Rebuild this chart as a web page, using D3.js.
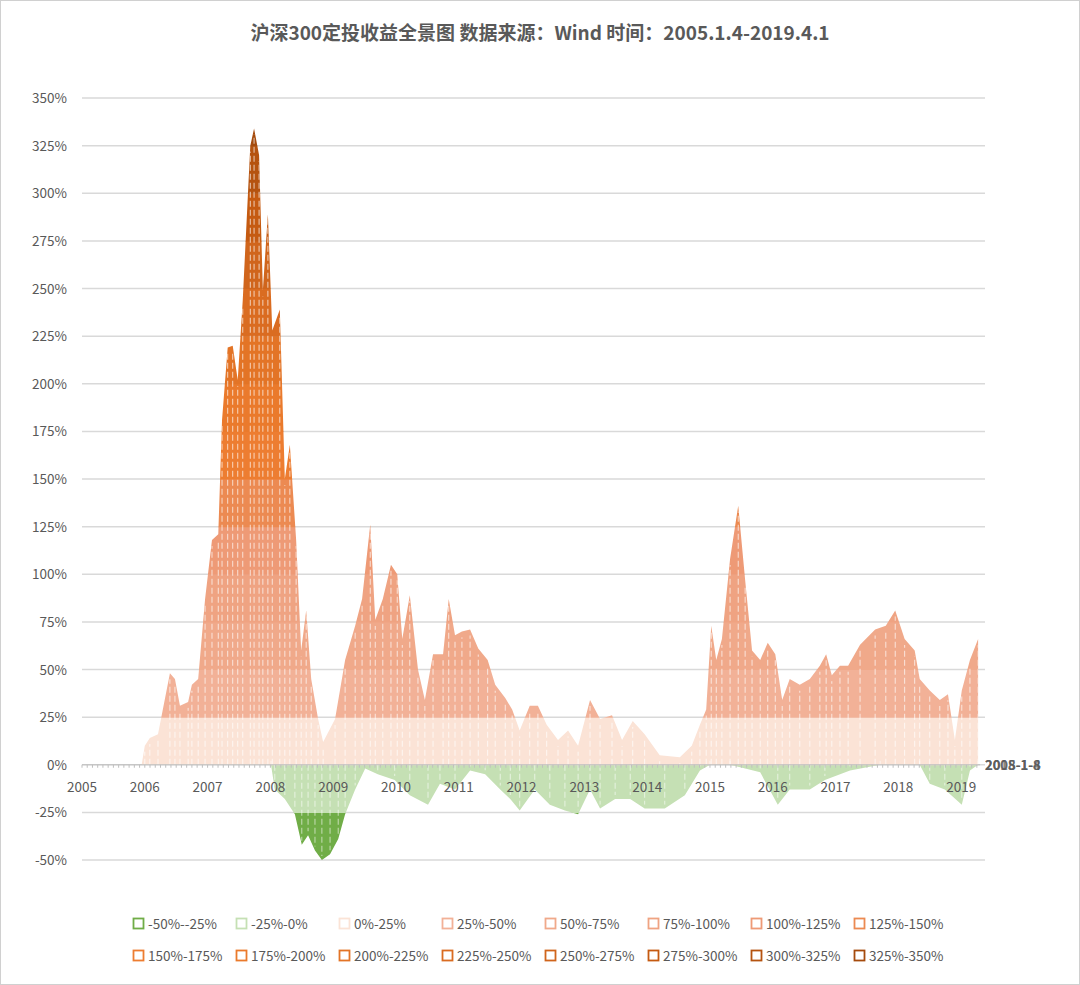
<!DOCTYPE html>
<html><head><meta charset="utf-8">
<script src="https://cdn.jsdelivr.net/npm/d3@7"></script>
<style>body{margin:0;background:#fff}svg{display:block}</style>
</head><body>
<svg id="c" width="1080" height="985"></svg>
<script>
// upper envelope of all series (year, return %)
const upYears = [2005.0,2005.95,2006.0,2006.08,2006.21,2006.4,2006.48,2006.56,2006.69,2006.75,2006.85,2006.96,2007.07,2007.17,2007.23,2007.32,2007.4,2007.48,2007.56,2007.68,2007.74,2007.82,2007.88,2007.96,2008.03,2008.15,2008.23,2008.31,2008.41,2008.49,2008.57,2008.65,2008.76,2008.84,2009.03,2009.19,2009.35,2009.46,2009.59,2009.67,2009.79,2009.92,2010.02,2010.1,2010.22,2010.35,2010.46,2010.59,2010.75,2010.84,2010.94,2011.05,2011.18,2011.31,2011.46,2011.58,2011.74,2011.85,2011.97,2012.13,2012.26,2012.4,2012.58,2012.74,2012.9,2013.09,2013.25,2013.44,2013.6,2013.77,2013.96,2014.2,2014.52,2014.71,2014.84,2014.94,2015.02,2015.1,2015.19,2015.32,2015.45,2015.56,2015.67,2015.8,2015.92,2016.04,2016.15,2016.27,2016.43,2016.59,2016.75,2016.85,2016.94,2017.07,2017.2,2017.39,2017.63,2017.8,2017.95,2018.1,2018.26,2018.34,2018.5,2018.66,2018.79,2018.9,2019.01,2019.14,2019.27];
const upVals  = [0,0,10,14,16,48,45,31,33,42,45,87,118,121,181,219,220,202,244,325,334,320,249,289,228,239,150,168,118,60,81,45,24,12,24,55,73,87,126,76,87,105,100,66,89,50,34,58,58,87,68,70,71,61,55,42,35,29,18,31,31,21,13,18,10,34,24,26,13,23,16,5,4,10,21,29,73,55,66,108,136,97,60,55,64,58,34,45,42,45,52,58,47,52,52,63,71,73,81,66,60,45,39,34,37,13,39,55,66];
// lower envelope of all series
const loYears = [2005.0,2008.01,2008.07,2008.23,2008.39,2008.5,2008.6,2008.71,2008.82,2008.95,2009.08,2009.19,2009.35,2009.51,2009.71,2009.98,2010.22,2010.51,2010.7,2010.94,2011.18,2011.42,2011.66,2011.82,2011.97,2012.21,2012.45,2012.69,2012.9,2013.09,2013.25,2013.49,2013.73,2013.96,2014.28,2014.6,2014.84,2015.0,2015.32,2015.8,2016.08,2016.27,2016.59,2016.83,2017.23,2017.71,2018.34,2018.5,2018.74,2019.01,2019.14,2019.27];
const loVals  = [0,0,-13,-18,-26,-42,-37,-45,-50,-47,-39,-26,-13,-2,-5,-8,-16,-21,-10,-13,-3,-5,-13,-18,-24,-13,-21,-24,-26,-13,-23,-18,-18,-23,-23,-16,-3,0,0,-4,-21,-13,-13,-8,-3,0,0,-10,-13,-21,-3,0];
const yearTicks = d3.range(2005, 2020);
const yTicks = d3.range(-50, 351, 25);
const bands = [
  ["-50%--25%",-50,-25,"#70ad47"],["-25%-0%",-25,0,"#c5e0b4"],["0%-25%",0,25,"#fbe3d6"],
  ["25%-50%",25,50,"#f2b197"],["50%-75%",50,75,"#f0a98a"],["75%-100%",75,100,"#efa382"],
  ["100%-125%",100,125,"#ee9a76"],["125%-150%",125,150,"#ec8a52"],["150%-175%",150,175,"#ed7d31"],
  ["175%-200%",175,200,"#ea7a2c"],["200%-225%",200,225,"#e37426"],["225%-250%",225,250,"#da6c21"],
  ["250%-275%",250,275,"#d0651c"],["275%-300%",275,300,"#c55a11"],["300%-325%",300,325,"#b5530f"],
  ["325%-350%",325,350,"#a54b0d"]
];

const svg = d3.select("#c");
svg.append("rect").attr("x",0.5).attr("y",0.5).attr("width",1079).attr("height",984)
  .attr("fill","#fff").attr("stroke","#d0d0d0");
const x = d3.scaleLinear().domain([2005, 2019.3]).range([82, 980]);
const y = d3.scaleLinear().domain([-50, 350]).range([860, 98]);
const font = "'Microsoft YaHei','Noto Sans CJK SC',Lato,sans-serif";

svg.append("text").attr("x",540).attr("y",40).attr("text-anchor","middle")
  .attr("font-family",font).attr("font-size",19).attr("font-weight","bold").attr("fill","#595959")
  .text("沪深300定投收益全景图 数据来源：Wind 时间：2005.1.4-2019.4.1");

// grid + y labels
const gy = svg.append("g");
gy.selectAll("line").data(yTicks).join("line")
  .attr("x1",82).attr("x2",985).attr("y1",d=>y(d)).attr("y2",d=>y(d))
  .attr("stroke","#d9d9d9").attr("stroke-width",1.5);
gy.selectAll("text").data(yTicks).join("text")
  .attr("x",67).attr("y",d=>y(d)+5).attr("text-anchor","end")
  .attr("font-family",font).attr("font-size",13.5).attr("fill","#595959").text(d=>d+"%");

const upper = upYears.map((t,i)=>[t,upVals[i]]);
const lower = loYears.map((t,i)=>[t,loVals[i]]);
const area = d3.area().x(d=>x(d[0])).y0(y(0)).y1(d=>y(d[1]));
const defs = svg.append("defs");
bands.forEach((b,i)=>{
  defs.append("clipPath").attr("id","b"+i).append("rect")
    .attr("x",60).attr("width",940).attr("y",y(b[2])).attr("height",y(b[1])-y(b[2])+0.5);
  const g = svg.append("g").attr("clip-path",`url(#b${i})`);
  g.append("path").attr("d",area(upper)).attr("fill",b[3]);
  g.append("path").attr("d",area(lower)).attr("fill",b[3]);
});
defs.append("clipPath").attr("id","all").append("path").attr("d",area(upper)+area(lower));
// contour-like white strokes inside the surface
const wl = svg.append("g").attr("clip-path","url(#all)");
wl.selectAll("line.u").data(upper).join("line")
  .attr("x1",d=>x(d[0])).attr("x2",d=>x(d[0])).attr("y1",y(0)).attr("y2",d=>y(d[1])+6)
  .attr("stroke","#fff").attr("stroke-width",1).attr("stroke-dasharray","6 3").attr("opacity",0.7);
wl.selectAll("line.l").data(lower).join("line")
  .attr("x1",d=>x(d[0])).attr("x2",d=>x(d[0])).attr("y1",y(0)).attr("y2",d=>y(d[1])-4)
  .attr("stroke","#fff").attr("stroke-width",1).attr("stroke-dasharray","6 3").attr("opacity",0.6);

// zero axis + year labels
svg.append("line").attr("x1",82).attr("x2",980).attr("y1",y(0)).attr("y2",y(0)).attr("stroke","#bfbfbf");
svg.append("g").selectAll("line").data(d3.range(2005,2019.3,1/12)).join("line")
  .attr("x1",d=>x(d)).attr("x2",d=>x(d)).attr("y1",y(0)).attr("y2",y(0)+3).attr("stroke","#bfbfbf");
svg.append("g").selectAll("text").data(yearTicks).join("text")
  .attr("x",d=>x(d)).attr("y",y(0)+27).attr("text-anchor","middle")
  .attr("font-family",font).attr("font-size",13.5).attr("fill","#595959").text(d=>d);
["2005-1-4","2008-1-8","2018-1-8"].forEach(s=>
  svg.append("text").attr("x",985).attr("y",y(0)+5).attr("font-family",font).attr("font-size",13)
    .attr("font-weight","bold").attr("fill","#595959").attr("opacity",0.7).text(s));

// legend
const lg = svg.append("g").selectAll("g").data(bands).join("g")
  .attr("transform",(d,i)=>`translate(${133+(i%8)*103},${i<8?918:950})`);
lg.append("rect").attr("x",0.5).attr("y",0.5).attr("width",10).attr("height",10)
  .attr("fill","none").attr("stroke",d=>d[3]).attr("stroke-width",1.8);
lg.append("text").attr("x",15).attr("y",11).attr("font-family",font).attr("font-size",13.5)
  .attr("fill","#595959").text(d=>d[0]);
</script>
</body></html>
